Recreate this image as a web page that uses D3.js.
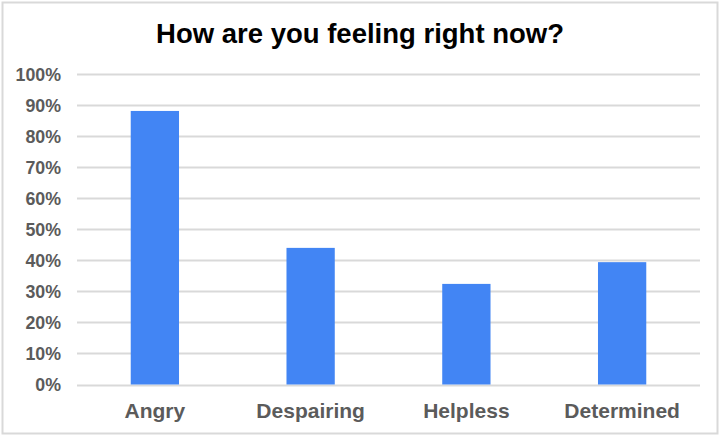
<!DOCTYPE html>
<html><head><meta charset="utf-8">
<script src="https://cdn.jsdelivr.net/npm/d3@7"></script>
<style>html,body{margin:0;padding:0;background:#fff}svg{display:block}</style>
</head><body>
<script>
const categories = ["Angry", "Despairing", "Helpless", "Determined"];
const values = [0.881, 0.44, 0.324, 0.394];
const yTicks = [0, 0.1, 0.2, 0.3, 0.4, 0.5, 0.6, 0.7, 0.8, 0.9, 1.0];
const title = "How are you feeling right now?";

(function () {
const W = 724, H = 436;
const svg = d3.select("body").append("svg").attr("width", W).attr("height", H);
svg.append("rect").attr("x", 0).attr("y", 0).attr("width", W).attr("height", H).attr("fill", "#fff");
svg.append("rect").attr("x", 2.5).attr("y", 2.5).attr("width", 715).attr("height", 431)
  .attr("fill", "none").attr("stroke", "#d9d9d9").attr("stroke-width", 2);

const font = "'Liberation Sans', Arial, Helvetica, sans-serif";
const plotL = 77, plotR = 700, plotT = 74, plotB = 384.5;
const x = d3.scaleBand().domain(categories).range([plotL, plotR]).paddingInner(0.69).paddingOuter(0.345);
const y = d3.scaleLinear().domain([0, 1]).range([plotB, plotT]);

svg.append("text").attr("x", 360).attr("y", 43).attr("text-anchor", "middle")
  .attr("font-family", font).attr("font-weight", "bold").attr("font-size", 27.5)
  .attr("fill", "#000").text(title);

// gridlines
svg.append("g").selectAll("line").data(yTicks).join("line")
  .attr("x1", plotL).attr("x2", plotR)
  .attr("y1", d => Math.round(y(d)) + 0.5).attr("y2", d => Math.round(y(d)) + 0.5)
  .attr("stroke", "#d9d9d9").attr("stroke-width", 2);

// y axis labels
const yAxis = d3.axisLeft(y).tickValues(yTicks).tickFormat(d3.format(".0%")).tickSize(0).tickPadding(0);
const gy = svg.append("g").attr("transform", `translate(61,0)`).call(yAxis);
gy.select(".domain").remove();
gy.selectAll("text").attr("font-family", font).attr("font-weight", "bold").attr("font-size", 17.8)
  .attr("fill", "#5b5b5b").attr("dy", "0.36em");

// bars
svg.append("g").selectAll("rect").data(values).join("rect")
  .attr("x", (d, i) => x(categories[i])).attr("width", x.bandwidth())
  .attr("y", d => y(d)).attr("height", d => y(0) - y(d))
  .attr("fill", "#4285f4");

// x axis labels
const xAxis = d3.axisBottom(x).tickSize(0).tickPadding(0);
const gx = svg.append("g").attr("transform", `translate(0,403)`).call(xAxis);
gx.select(".domain").remove();
gx.selectAll("text").attr("font-family", font).attr("font-weight", "bold").attr("font-size", 21)
  .attr("fill", "#5b5b5b").attr("dy", "0.72em");
})();
</script>
</body></html>
